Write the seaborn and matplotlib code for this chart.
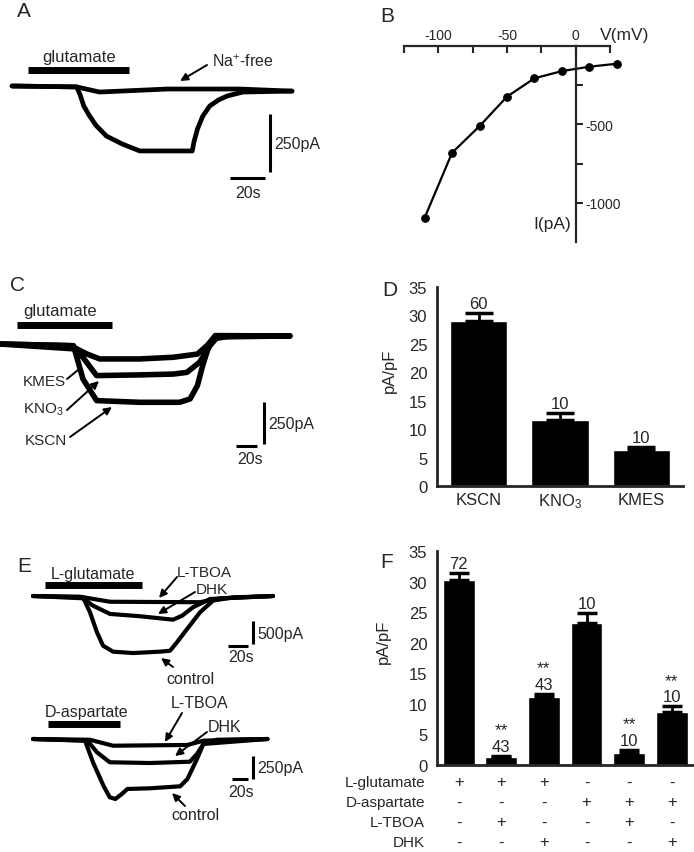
import numpy as np
import pandas as pd
import matplotlib
matplotlib.use('Agg')
import matplotlib.pyplot as plt
import seaborn as sns

# ---- data ----
# A: whole-cell traces (s, pA)
A_t_glu = [0, 37, 39, 41, 44, 48, 54, 63, 73, 103, 104, 106, 109, 113, 118, 123, 132, 160]
A_I_glu = [0, -4, -40, -86, -125, -170, -216, -250, -280, -280, -240, -185, -130, -86, -60, -43, -26, -22]
A_t_na = [0, 37, 50, 89, 130, 160]
A_I_na = [0, -4, -26, -13, -13, -22]
A_stim = [9, 67]

# B: I-V relation
V_B = [-110, -90, -70, -50, -30, -10, 10, 30]
I_B = [-1096, -681, -511, -323, -206, -160, -132, -113]

# C: traces with different K+ salts (s, pA)
C_t_kmes = [0, 67, 83, 95, 133, 165, 188, 197, 203, 219, 276]
C_I_kmes = [0, -10, -60, -89, -89, -79, -60, -10, 30, 48, 48]
C_t_kno3 = [0, 73, 92, 133, 165, 178, 190, 200, 207, 276]
C_I_kno3 = [0, -30, -188, -184, -179, -169, -109, -10, 42, 48]
C_t_kscn = [0, 70, 79, 92, 133, 171, 181, 188, 193, 200, 205, 276]
C_I_kscn = [0, -10, -208, -337, -347, -347, -327, -248, -129, 10, 50, 48]
C_stim = [16, 107]

# D: current density
salts = ['KSCN', 'KNO$_3$', 'KMES']
D_mean = [29.1, 11.6, 6.3]
D_sem = [1.3, 1.2, 0.6]
D_n = ['60', '10', '10']

# E: traces, L-glutamate (top) and D-aspartate (bottom)
E1_t_ctrl = [0, 50, 57, 64, 70, 80, 100, 127, 137, 144, 154, 167, 180, 200, 240]
E1_I_ctrl = [0, -30, -355, -790, -1080, -1210, -1240, -1210, -1190, -1005, -720, -355, -100, -30, 0]
E1_t_dhk = [0, 50, 60, 77, 107, 140, 149, 160, 177, 240]
E1_I_dhk = [0, -50, -210, -390, -440, -515, -430, -245, -65, 0]
E1_t_tboa = [0, 47, 77, 167, 187, 240]
E1_I_tboa = [0, -15, -125, -135, -50, 0]
E1_stim = [12, 109]

E2_t_ctrl = [0, 65, 75, 88, 96, 103, 111, 118, 146, 184, 193, 205, 213, 230, 293]
E2_I_ctrl = [0, -18, -253, -507, -634, -652, -598, -543, -536, -514, -435, -217, -54, -8, 0]
E2_t_dhk = [0, 68, 80, 96, 146, 196, 205, 213, 293]
E2_I_dhk = [0, -18, -145, -253, -261, -247, -163, -54, 0]
E2_t_tboa = [0, 71, 100, 193, 213, 293]
E2_I_tboa = [0, -8, -73, -65, -18, 0]
E2_stim = [19, 109]

# F: current density with blockers
F_mean = [30.2, 1.3, 11.2, 23.3, 2.0, 8.7]
F_sem = [1.2, 0.2, 0.4, 1.6, 0.5, 0.9]
F_n = ['72', '43', '43', '10', '10', '10']
F_star = ['', '**', '**', '', '**', '**']
F_rows = ['L-glutamate', 'D-aspartate', 'L-TBOA', 'DHK']
F_table = [['+', '+', '+', '-', '-', '-'],
           ['-', '-', '-', '+', '+', '+'],
           ['-', '+', '-', '-', '+', '-'],
           ['-', '-', '+', '-', '-', '+']]

# ---- style ----
sns.set_style('white')
plt.rcParams['font.family'] = ['Liberation Sans', 'DejaVu Sans']
plt.rcParams['mathtext.fontset'] = 'custom'
plt.rcParams['mathtext.rm'] = 'Liberation Sans'
plt.rcParams['mathtext.it'] = 'Liberation Sans:italic'
plt.rcParams['mathtext.default'] = 'regular'
plt.rcParams['axes.unicode_minus'] = False

W, H = 694, 853
fig = plt.figure(figsize=(W / 100, H / 100), dpi=100)


def rect(x0, y0, x1, y1):
    return [x0 / W, 1 - y1 / H, (x1 - x0) / W, (y1 - y0) / H]


def trace_axes(box, ox, oy, sx, sy):
    x0, y0, x1, y1 = box
    ax = fig.add_axes(rect(*box))
    ax.set_xlim((x0 - ox) / sx, (x1 - ox) / sx)
    ax.set_ylim(-(y1 - oy) / sy, -(y0 - oy) / sy)
    ax.axis('off')
    return ax


def bars(ax, stim, level, hbar, vbar, dt, dI):
    ax.plot(stim, [level, level], color='k', lw=5, solid_capstyle='butt')
    ax.plot([hbar[0], hbar[0] + dt], [hbar[1], hbar[1]], color='k', lw=2.2, solid_capstyle='butt')
    ax.plot([vbar[0], vbar[0]], [vbar[1], vbar[1] - dI], color='k', lw=2.2, solid_capstyle='butt')


# A
axA = trace_axes((0, 35, 335, 210), 12, 87, 1.75, 0.232)
axA.plot(A_t_na, A_I_na, color='k', lw=3.4, solid_joinstyle='round')
axA.plot(A_t_glu, A_I_glu, color='k', lw=3.4, solid_joinstyle='round')
bars(axA, A_stim, 67, (124.6, -397), (147.4, -121), 20, 250)

# C
axC = trace_axes((0, 295, 300, 470), 0, 345, 1.05, 0.168)
for t, i in [(C_t_kmes, C_I_kmes), (C_t_kno3, C_I_kno3), (C_t_kscn, C_I_kscn)]:
    axC.plot(t, i, color='k', lw=4, solid_joinstyle='round')
bars(axC, C_stim, 116, (224.8, -607), (251.4, -345), 20, 250)

# E top
axE1 = trace_axes((0, 575, 330, 690), 33, 597, 1.0, 0.046)
for t, i in [(E1_t_tboa, E1_I_tboa), (E1_t_dhk, E1_I_dhk), (E1_t_ctrl, E1_I_ctrl)]:
    axE1.plot(t, i, color='k', lw=3, solid_joinstyle='round')
bars(axE1, E1_stim, 250, (195, -1087), (220, -543), 20, 500)

# E bottom
axE2 = trace_axes((0, 690, 330, 830), 33, 740, 0.8, 0.092)
for t, i in [(E2_t_tboa, E2_I_tboa), (E2_t_dhk, E2_I_dhk), (E2_t_ctrl, E2_I_ctrl)]:
    axE2.plot(t, i, color='k', lw=3, solid_joinstyle='round')
bars(axE2, E2_stim, 163, (249, -435), (275, -185), 20, 250)

# B: I-V curve
axB = fig.add_axes(rect(404, 47, 619.6, 243))
sns.lineplot(x=V_B, y=I_B, color='k', marker='o', markersize=5.5, markeredgecolor='k',
             linewidth=1.6, ax=axB, clip_on=False)
axB.set_xlim(-125, 32)
axB.set_ylim(-1250, 0)
axB.spines['left'].set_visible(False)
axB.spines['bottom'].set_visible(False)
axB.spines['top'].set_bounds(-125, 25)
axB.spines['right'].set_position(('data', 0))
for s in ['top', 'right']:
    axB.spines[s].set_linewidth(1.6)
axB.xaxis.tick_top()
axB.set_xticks([-100, -50, 0])
axB.set_xticks([-125, -75, -25, 25], minor=True)
axB.tick_params(axis='x', which='both', direction='in', length=5, width=1.5, labelsize=10, pad=3)
axB.yaxis.tick_right()
axB.set_yticks([-1000, -500])
axB.set_yticks([-750, -250], minor=True)
axB.tick_params(axis='y', which='both', direction='out', length=5, width=1.5, labelsize=10, pad=2)
axB.set_xlabel('')
axB.set_ylabel('')


def bar_panel(ax, labels, mean, sem, n, width, capsize):
    df = pd.DataFrame({'cond': labels, 'val': mean})
    sns.barplot(data=df, x='cond', y='val', color='k', saturation=1, width=width, ax=ax)
    ax.errorbar(range(len(mean)), mean, yerr=[np.zeros(len(sem)), sem], fmt='none',
                ecolor='k', elinewidth=2, capsize=capsize, capthick=2.5)
    for i, (m, s, t) in enumerate(zip(mean, sem, n)):
        ax.annotate(t, (i, m + s), xytext=(0, 3.5), textcoords='offset points',
                    ha='center', va='baseline', fontsize=12)
    ax.set_ylim(0, 35)
    ax.set_yticks(range(0, 36, 5))
    sns.despine(ax=ax)
    for s in ['left', 'bottom']:
        ax.spines[s].set_linewidth(2)
    ax.tick_params(axis='y', length=5, width=1.5, labelsize=12, pad=2)
    ax.tick_params(axis='x', length=0, labelsize=12, pad=4)
    ax.set_xlabel('')
    ax.set_ylabel('pA/pF', fontsize=12)


# D
axD = fig.add_axes(rect(437, 288, 683, 487))
bar_panel(axD, salts, D_mean, D_sem, D_n, 0.7, 10)
axD.set_xlim(-0.51, 2.51)
axD.yaxis.set_label_coords((397 - 437) / 246, (487 - 371) / 199)

# F
axF = fig.add_axes(rect(437, 552, 693, 766))
bar_panel(axF, [str(i) for i in range(6)], F_mean, F_sem, F_n, 0.75, 7)
axF.set_xlim(-0.51, 5.5)
axF.set_xticks([])
axF.yaxis.set_label_coords((391 - 437) / 256, (766 - 642) / 214)
for i, (m, s, st) in enumerate(zip(F_mean, F_sem, F_star)):
    if st:
        axF.annotate(st, (i, m + s), xytext=(0, 15.5), textcoords='offset points',
                     ha='center', va='baseline', fontsize=12.5)
tr = matplotlib.transforms.blended_transform_factory(axF.transData, fig.transFigure)
row_y = [783, 803, 823, 843]
for r, (name, marks) in enumerate(zip(F_rows, F_table)):
    fig.text(425 / W, 1 - row_y[r] / H, name, ha='right', va='center', fontsize=11)
    for i, mk in enumerate(marks):
        axF.text(i, 1 - row_y[r] / H, mk, transform=tr, ha='center', va='center',
                 fontsize=12, clip_on=False)

# ---- overlay for labels and arrows (pixel coordinates) ----
ov = fig.add_axes([0, 0, 1, 1], zorder=10)
ov.set_xlim(0, W)
ov.set_ylim(H, 0)
ov.axis('off')
ov.patch.set_alpha(0)


def txt(x, y, s, ha='left', size=11.5):
    ov.text(x, y, s, ha=ha, va='center', fontsize=size)


def arrow(tail, tip, head=True):
    style = '-|>,head_length=0.45,head_width=0.22' if head else '-'
    ov.annotate('', xy=tip, xytext=tail,
                arrowprops=dict(arrowstyle=style, color='k', lw=1.4, shrinkA=0, shrinkB=0))


for letter, x, y in [('A', 17, 11), ('B', 380, 16), ('C', 10, 285), ('D', 382, 290),
                     ('E', 17, 566), ('F', 380, 562)]:
    txt(x, y, letter, size=15)

txt(79, 57, 'glutamate', ha='center', size=12)
txt(212, 62, 'Na$^{+}$-free')
arrow((207, 66), (180, 82))
txt(274, 144, '250pA')
txt(248, 193, '20s', ha='center')

txt(600, 35, 'V(mV)', size=12.5)
txt(533, 224, 'I(pA)', size=12.5)

txt(60, 311, 'glutamate', ha='center', size=12)
txt(23, 382, 'KMES', size=11)
arrow((67, 380), (78, 371), head=False)
txt(23, 410, 'KNO$_3$', size=11)
arrow((67, 411), (99, 382))
txt(25, 441, 'KSCN', size=11)
arrow((70, 438), (112, 408))
txt(268, 424, '250pA')
txt(250, 459, '20s', ha='center')

txt(93, 575, 'L-glutamate', ha='center')
txt(177, 573, 'L-TBOA', size=11)
arrow((177, 578), (159, 599))
txt(196, 590, 'DHK', size=11)
arrow((195, 593), (158, 615))
txt(257, 635, '500pA')
txt(241, 658, '20s', ha='center')
txt(190, 679, 'control', ha='center')
arrow((173, 668), (161, 659))

txt(87, 713, 'D-aspartate', ha='center')
txt(200, 704, 'L-TBOA', ha='center')
arrow((182, 714), (165, 743))
txt(208, 727, 'DHK')
arrow((207, 733), (175, 757))
txt(257, 769, '250pA')
txt(241, 793, '20s', ha='center')
txt(195, 816, 'control', ha='center')
arrow((185, 807), (172, 794))

fig.savefig('out.png', dpi=100)
